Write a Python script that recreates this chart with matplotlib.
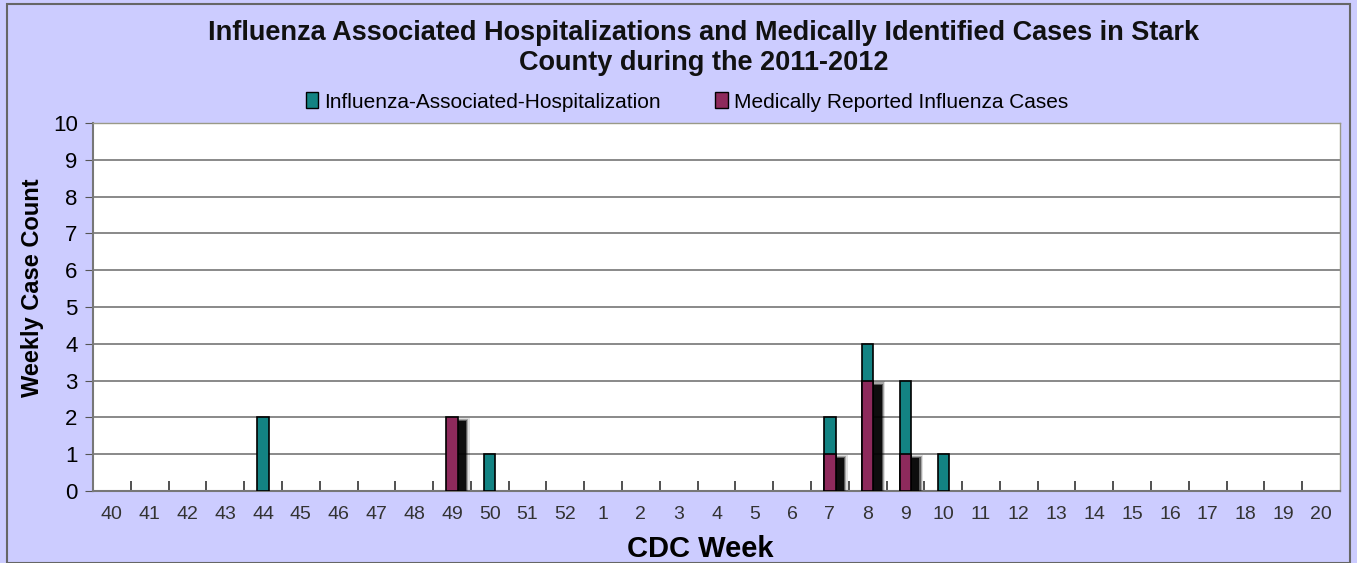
import matplotlib
matplotlib.use("Agg")
import matplotlib.pyplot as plt
import numpy as np
from matplotlib.patches import Rectangle, Patch

weeks = ["40","41","42","43","44","45","46","47","48","49","50","51","52",
         "1","2","3","4","5","6","7","8","9","10","11","12","13","14","15",
         "16","17","18","19","20"]
hosp = [0,0,0,0,2,0,0,0,0,0,1,0,0,0,0,0,0,0,0,2,4,3,1,0,0,0,0,0,0,0,0,0,0]
medic = [0,0,0,0,0,0,0,0,0,2,0,0,0,0,0,0,0,0,0,1,3,1,0,0,0,0,0,0,0,0,0,0,0]

bg = "#CCCCFF"
teal = "#138383"
maroon = "#8E2A5C"
FONT = "Liberation Sans"

fig = plt.figure(figsize=(13.57, 5.63), dpi=100, facecolor=bg)
fig.patches.append(Rectangle((0.005, 0.0), 0.99, 0.993, transform=fig.transFigure,
                             fill=False, edgecolor="#666666", linewidth=1.5))
ax = fig.add_axes([93/1357, 1-491/563, (1340-93)/1357, (491-123)/563])
ax.set_facecolor("white")

x = np.arange(len(weeks))
w = 0.30
hx = [xi for xi, v in zip(x, hosp) if v > 0]
hv = [v for v in hosp if v > 0]
mx = [xi for xi, v in zip(x, medic) if v > 0]
mv = [v for v in medic if v > 0]

ax.bar(hx, hv, width=w, color=teal, edgecolor="black", linewidth=1.2, zorder=3)
# blurred shadow of medical bars (offset to the right)
off = 0.22
for xi, v in zip(mx, mv):
    layers = [(0.10, 0.12, 0.10), (0.06, 0.25, 0.06), (0.03, 0.45, 0.03), (0.0, 0.85, 0.0)]
    for grow, a, dy in layers:
        ax.add_patch(Rectangle((xi - w/2 + off - grow, 0), w + 2*grow,
                               v - 0.05 + dy - 0.06,
                               facecolor="black", alpha=a, edgecolor="none", zorder=3.5))
ax.bar(mx, mv, width=w, color=maroon, edgecolor="black", linewidth=1.2, zorder=4)

ax.set_xlim(-0.5, len(weeks) - 0.5)
ax.set_ylim(0, 10)
ax.set_yticks(range(0, 11))
ax.set_yticklabels([str(i) for i in range(11)], fontsize=16, fontfamily=FONT)
ax.yaxis.grid(True, color="#808080", linewidth=1.3, zorder=1)
ax.set_axisbelow(True)
ax.tick_params(axis="y", direction="out", length=6, color="#555555", pad=5)

ax.set_xticks(x)
ax.set_xticklabels(weeks, fontsize=14, color="#333333", fontfamily=FONT)
ax.tick_params(axis="x", length=0, pad=11)
ax.set_xticks(np.arange(0.5, len(weeks) - 0.5, 1), minor=True)
ax.tick_params(axis="x", which="minor", direction="in", length=7, color="#333333", width=1.2)

for s in ["left", "bottom"]:
    ax.spines[s].set_color("#777777")
    ax.spines[s].set_linewidth(1.5)
for s in ["right", "top"]:
    ax.spines[s].set_color("#999988")
    ax.spines[s].set_linewidth(1.0)

ax.set_ylabel("Weekly Case Count", fontsize=17, fontweight="bold", fontfamily=FONT)
ax.yaxis.set_label_coords(-60/1247, (491-288)/368)
ax.yaxis.label.set_va("center")
ax.set_xlabel("CDC Week", fontsize=21, fontweight="bold", fontfamily=FONT)
ax.xaxis.set_label_coords((700-93)/1247, -(549-491)/368)
ax.xaxis.label.set_va("center")

fig.text(704/1357, 1-48/563, "Influenza Associated Hospitalizations and Medically Identified Cases in Stark\nCounty during the 2011-2012",
         ha="center", va="center", fontsize=19.5, fontweight="bold", fontfamily=FONT,
         linespacing=1.25, color="#111111")

handles = [Patch(facecolor=teal, edgecolor="black", label="Influenza-Associated-Hospitalization"),
           Patch(facecolor=maroon, edgecolor="black", label="Medically Reported Influenza Cases")]
fig.legend(handles=handles, loc="center", bbox_to_anchor=(687/1357, 1-102/563), ncol=2,
           frameon=False, handlelength=0.6, handleheight=0.8, handletextpad=0.3,
           columnspacing=2.6, prop={"family": FONT, "size": 15})

fig.savefig("out.png", dpi=100, facecolor=bg)
